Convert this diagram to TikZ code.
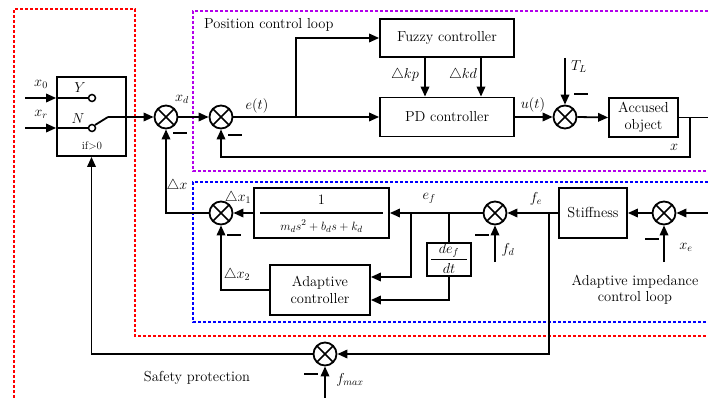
\documentclass[tikz,border=0pt]{standalone}
\usetikzlibrary{arrows.meta}
\definecolor{zred}{RGB}{255,0,0}
\definecolor{zpur}{RGB}{180,0,235}
\definecolor{zblu}{RGB}{0,0,255}
\begin{document}
\begin{tikzpicture}[x=1pt,y=-1pt,
  every node/.style={font=\fontsize{14.5}{16}\selectfont},
  wire/.style={line width=1.8pt},
  arr/.style={wire,-{Triangle[length=10pt,width=8.5pt]}},
  blk/.style={draw,line width=1.8pt,inner sep=0pt,align=center},
  sumnode/.style={circle,draw,line width=1.8pt,minimum size=23pt,inner sep=0pt,
    path picture={\draw[line width=1.6pt]
      (path picture bounding box.north west)--(path picture bounding box.south east)
      (path picture bounding box.north east)--(path picture bounding box.south west);}},
  term/.style={circle,draw,line width=1.5pt,minimum size=7pt,inner sep=0pt},
  minus/.style={line width=2pt},
  zone/.style={line width=1.5pt,dash pattern=on 3pt off 2pt},
  lab/.style={inner sep=1pt},
]
\useasboundingbox (0,0) rectangle (708,398);

% dashed zones
\draw[zone,zred] (14,398) -- (14,9) -- (135,9) -- (135,336) -- (708,336);
\draw[zone,zpur] (708,11) -- (193,11) -- (193,171) -- (708,171);
\draw[zone,zblu] (708,182) -- (193,182) -- (193,322) -- (708,322);

% blocks
\node[blk,minimum width=69pt,minimum height=79pt] (sw) at (91.5,116.5) {};
\node[blk,minimum width=134pt,minimum height=38pt] (fz) at (447,38) {Fuzzy controller};
\node[blk,minimum width=134pt,minimum height=39pt] (pd) at (447,117) {PD controller};
\node[blk,minimum width=69pt,minimum height=39pt] (acc) at (643.5,117.5) {Accused\\[1pt]object};
\node[blk,minimum width=135pt,minimum height=50pt] (tf) at (321.5,213) {};
\node[blk,minimum width=44pt,minimum height=33pt] (dv) at (449,259.5) {};
\node[blk,minimum width=100pt,minimum height=50pt] (ad) at (320,290) {Adaptive\\[1pt]controller};
\node[blk,minimum width=68pt,minimum height=50pt] (st) at (593,213) {Stiffness};

% transfer function and derivative contents
\node (tfn) at (321.5,200) {$1$};
\draw[line width=1.4pt] ([xshift=7pt]tf.west) -- ([xshift=-7pt]tf.east);
\node[font=\fontsize{13}{15}\selectfont] (tfd) at (321.5,226) {$m_d s^2 + b_d s + k_d$};
\node (dvn) at (449,250.5) {$de_f$};
\draw[line width=1.4pt] ([xshift=5pt]dv.west) -- ([xshift=-5pt]dv.east);
\node (dvd) at (449,268) {$dt$};

% summing junctions
\node[sumnode] (s1) at (166,117) {};
\node[sumnode] (s2) at (221,117) {};
\node[sumnode] (sT) at (565,117) {};
\node[sumnode] (sA) at (221,213) {};
\node[sumnode] (sF) at (495,213) {};
\node[sumnode] (sX) at (664,213) {};
\node[sumnode] (sS) at (325,354) {};

% switch internals
\coordinate (x0in) at (25,98);
\coordinate (xrin) at (25,128);
\node[term] (ty) at (92,98) {};
\node[term] (tn) at (92,128) {};
\draw[arr] (x0in) -- (sw.west |- x0in);
\draw[arr] (xrin) -- (sw.west |- xrin);
\draw[wire] (sw.west |- x0in) -- (ty.west);
\draw[wire] (sw.west |- xrin) -- (tn.west);
\coordinate (arm) at (108,117);
\draw[wire] (tn.north east) -- (arm);
\draw[arr] (arm) -- (s1.west);

% upper loop
\draw[arr] (s1.east) -- (s2.west);
\draw[arr] (s2.east) -- (pd.west);
\coordinate (b1) at (296,117);
\draw[arr] (b1) |- (fz.west);
\draw[arr] ([xshift=-22pt]fz.south) -- ([xshift=-22pt]pd.north);
\draw[arr] ([xshift=34pt]fz.south) -- ([xshift=34pt]pd.north);
\draw[arr] (pd.east) -- (sT.west);
\coordinate (tl) at (565,58);
\draw[arr] (tl) -- (sT.north);
\draw[arr] (sT.east) -- (acc.west);
\coordinate (outR) at (708,117.5);
\draw[wire] (acc.east) -- (outR);
\coordinate (fb) at (690,117.5);
\coordinate (fbc) at (690,157);
\draw[arr] (fb) -- (fbc) -| (s2.south);

% lower loop
\draw[arr] (sF.west) -- (tf.east);
\coordinate (b2) at (411,213);
\draw[arr] (b2) |- ([yshift=13pt]ad.east);
\coordinate (b3) at (449,213);
\draw[wire] (b3) -- (dv.north);
\draw[arr] (dv.south) |- ([yshift=-10pt]ad.east);
\draw[arr] (tf.west) -- (sA.east);
\draw[arr] (ad.west) -| (sA.south);
\draw[arr] (sA.west) -| (s1.south);
\draw[arr] (st.west) -- (sF.east);
\draw[arr] (sX.west) -- (st.east);
\coordinate (xin) at (708,213);
\draw[arr] (xin) -- (sX.east);
\coordinate (xe) at (664,262);
\draw[arr] (xe) -- (sX.south);
\coordinate (fd) at (495,262);
\draw[arr] (fd) -- (sF.south);

% safety loop
\coordinate (b4) at (549,213);
\draw[arr] (b4) |- (sS.east);
\draw[arr] (sS.west) -| (sw.south);
\coordinate (fm) at (325,398);
\draw[arr] (fm) -- (sS.south);

% minus signs
\draw[minus] (173,133) -- (187,133);
\draw[minus] (228,135) -- (242,135);
\draw[minus] (574,94) -- (588,94);
\draw[minus] (227,235) -- (241,235);
\draw[minus] (475,235) -- (489,235);
\draw[minus] (645,239) -- (659,239);
\draw[minus] (304,374) -- (318,374);

% labels
\node[lab] at (41,84) {$x_0$};
\node[lab] at (41,114) {$x_r$};
\node[lab] at (80,88) {$Y$};
\node[lab] at (78,119) {$N$};
\node[lab,font=\fontsize{11}{13}\selectfont] at (92,146) {if>0};
\node[lab] at (182,99) {$x_d$};
\node[lab] at (257,106) {$e(t)$};
\node[lab] at (405,75) {$\triangle kp$};
\node[lab] at (463,75) {$\triangle kd$};
\node[lab] at (533,105) {$u(t)$};
\node[lab] at (579,67) {$T_L$};
\node[lab] at (674,147) {$x$};
\node[lab,anchor=west] at (203,25) {Position control loop};
\node[lab] at (177,186) {$\triangle x$};
\node[lab] at (238,198) {$\triangle x_1$};
\node[lab] at (429,198) {$e_f$};
\node[lab] at (536,199) {$f_e$};
\node[lab] at (508,250) {$f_d$};
\node[lab] at (686,247) {$x_e$};
\node[lab] at (237,275) {$\triangle x_2$};
\node[lab,align=center] at (635,290) {Adaptive impedance\\[0pt]control loop};
\node[lab] at (197,378) {Safety protection};
\node[lab] at (350,380) {$f_{max}$};
\end{tikzpicture}
\end{document}
